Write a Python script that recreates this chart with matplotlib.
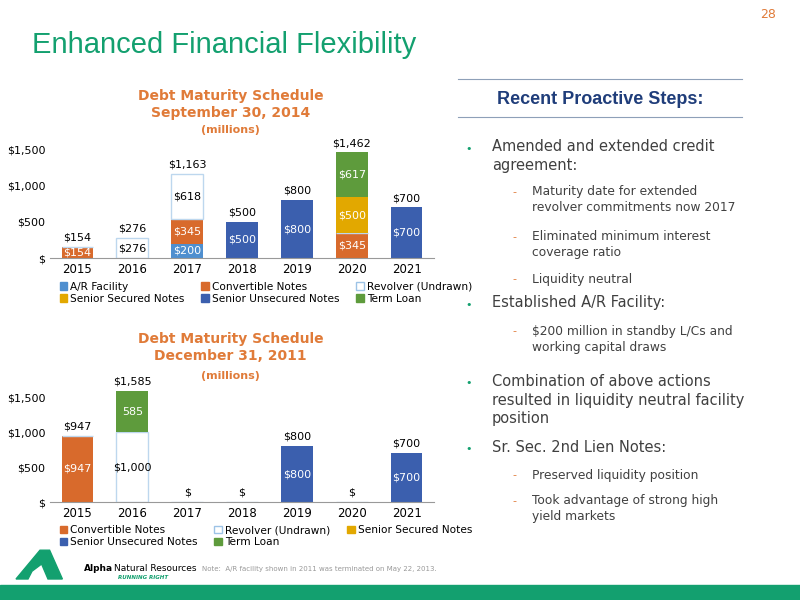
import matplotlib
matplotlib.use("Agg")
import matplotlib.pyplot as plt
import numpy as np
from matplotlib.patches import Rectangle, Polygon

years = ["2015", "2016", "2017", "2018", "2019", "2020", "2021"]
series = ["A/R Facility", "Convertible Notes", "Revolver (Undrawn)",
          "Senior Secured Notes", "Senior Unsecured Notes", "Term Loan"]
colors = {"A/R Facility": "#4f8fcf", "Convertible Notes": "#d86a2c",
          "Revolver (Undrawn)": "#ffffff", "Senior Secured Notes": "#e2a800",
          "Senior Unsecured Notes": "#3b5fae", "Term Loan": "#5e9b3c"}

top_ar = [0, 0, 200, 0, 0, 0, 0]
top_conv = [154, 0, 345, 0, 0, 345, 0]
top_rev = [0, 276, 618, 0, 0, 0, 0]
top_ssn = [0, 0, 0, 0, 0, 500, 0]
top_sun = [0, 0, 0, 500, 800, 0, 700]
top_tl = [0, 0, 0, 0, 0, 617, 0]
top_totals = ["$154", "$276", "$1,163", "$500", "$800", "$1,462", "$700"]

bot_conv = [947, 0, 0, 0, 0, 0, 0]
bot_rev = [0, 1000, 0, 0, 0, 0, 0]
bot_ssn = [0, 0, 0, 0, 0, 0, 0]
bot_sun = [0, 0, 0, 0, 800, 0, 700]
bot_tl = [0, 585, 0, 0, 0, 0, 0]
bot_totals = ["$947", "$1,585", "$", "$", "$800", "$", "$700"]

GREEN = "#13a06f"
ORANGE = "#e07b39"

fig = plt.figure(figsize=(8, 6), dpi=100)
fig.patch.set_facecolor("white")

def draw(ax, data, totals, ylim, legend_order):
    x = np.arange(len(years))
    bottom = np.zeros(len(years))
    for name, vals in data:
        vals = np.array(vals, dtype=float)
        ec = "#bdd7ee" if name == "Revolver (Undrawn)" else "none"
        ax.bar(x, vals, 0.58, bottom=bottom, color=colors[name], edgecolor=ec, linewidth=1)
        for i, v in enumerate(vals):
            if v > 0:
                tc = "black" if name == "Revolver (Undrawn)" else "white"
                lab = "585" if v == 585 else f"${v:,.0f}"
                ax.text(i, bottom[i] + v / 2, lab, ha="center", va="center", fontsize=8, color=tc)
        bottom += vals
    for i, t in enumerate(totals):
        ax.text(i, bottom[i] + 60, t, ha="center", va="bottom", fontsize=8)
    ax.set_xlim(-0.5, 6.5)
    ax.set_ylim(0, ylim)
    ax.set_xticks(x)
    ax.set_xticklabels(years, fontsize=8.5)
    ax.set_yticks([0, 500, 1000, 1500])
    ax.set_yticklabels(["$", "$500", "$1,000", "$1,500"], fontsize=8)
    for s in ["top", "right", "left"]:
        ax.spines[s].set_visible(False)
    ax.spines["bottom"].set_color("#999999")
    ax.tick_params(length=0)
    handles = [Rectangle((0, 0), 1, 1, facecolor=colors[n],
                         edgecolor="#9dc3e6" if n == "Revolver (Undrawn)" else colors[n]) for n in legend_order]
    ax.legend(handles, legend_order, ncol=3, loc="upper left", bbox_to_anchor=(0.0, -0.12),
              frameon=False, fontsize=7.6, handlelength=0.7, handleheight=0.7,
              columnspacing=1.6, handletextpad=0.3, labelspacing=0.2)

ax1 = fig.add_axes([0.0625, 0.57, 0.48, 0.195])
draw(ax1, [("A/R Facility", top_ar), ("Convertible Notes", top_conv),
           ("Revolver (Undrawn)", top_rev), ("Senior Secured Notes", top_ssn),
           ("Senior Unsecured Notes", top_sun), ("Term Loan", top_tl)],
     top_totals, 1620, [series[i] for i in [0, 3, 1, 4, 2, 5]])
fig.text(0.288, 0.826, "Debt Maturity Schedule\nSeptember 30, 2014", ha="center", va="center",
         color=ORANGE, fontsize=10, fontweight="bold", linespacing=1.25)
fig.text(0.288, 0.783, "(millions)", ha="center", va="center", color=ORANGE, fontsize=8, fontweight="bold")

ax2 = fig.add_axes([0.0625, 0.163, 0.48, 0.187])
draw(ax2, [("Convertible Notes", bot_conv), ("Revolver (Undrawn)", bot_rev),
           ("Senior Secured Notes", bot_ssn), ("Senior Unsecured Notes", bot_sun),
           ("Term Loan", bot_tl)],
     bot_totals, 1600, [series[i] for i in [1, 4, 2, 5, 3]])
fig.text(0.288, 0.421, "Debt Maturity Schedule\nDecember 31, 2011", ha="center", va="center",
         color=ORANGE, fontsize=10, fontweight="bold", linespacing=1.25)
fig.text(0.288, 0.373, "(millions)", ha="center", va="center", color=ORANGE, fontsize=8, fontweight="bold")

# Title and decorations
fig.text(0.04, 0.925, "Enhanced Financial Flexibility", color=GREEN, fontsize=21,
         va="center", ha="left", family="Liberation Sans")
fig.text(0.96, 0.975, "28", color=ORANGE, fontsize=9, ha="center", va="center")
fig.add_artist(Rectangle((0, 0), 1, 0.025, transform=fig.transFigure, color=GREEN))

# Right panel
fig.add_artist(plt.Line2D([0.572, 0.928], [0.868, 0.868], transform=fig.transFigure, color="#8ea0b8", lw=0.8))
fig.add_artist(plt.Line2D([0.572, 0.928], [0.805, 0.805], transform=fig.transFigure, color="#8ea0b8", lw=0.8))
fig.text(0.75, 0.835, "Recent Proactive Steps:", color="#1f3d7a", fontsize=13, ha="center", va="center",
         family="Liberation Sans", fontweight="bold")

items = [
    (0, 0.740, "Amended and extended credit\nagreement:"),
    (1, 0.667, "Maturity date for extended\nrevolver commitments now 2017"),
    (1, 0.592, "Eliminated minimum interest\ncoverage ratio"),
    (1, 0.535, "Liquidity neutral"),
    (0, 0.495, "Established A/R Facility:"),
    (1, 0.435, "$200 million in standby L/Cs and\nworking capital draws"),
    (0, 0.333, "Combination of above actions\nresulted in liquidity neutral facility\nposition"),
    (0, 0.255, "Sr. Sec. 2nd Lien Notes:"),
    (1, 0.208, "Preserved liquidity position"),
    (1, 0.152, "Took advantage of strong high\nyield markets"),
]
for lvl, y, t in items:
    nl = t.count("\n")
    if lvl == 0:
        fig.text(0.582, y + nl * 0.016 - 0.004, "•", color=GREEN, fontsize=8, va="center", ha="left")
        fig.text(0.615, y, t, color="#404040", fontsize=10.5, va="center", ha="left", linespacing=1.3)
    else:
        fig.text(0.64, y + nl * 0.013, "-", color=ORANGE, fontsize=8, va="center", ha="left")
        fig.text(0.665, y, t, color="#404040", fontsize=8.8, va="center", ha="left", linespacing=1.3)

# Logo and note
fig.add_artist(Polygon([[0.02, 0.035], [0.05, 0.083], [0.062, 0.083], [0.078, 0.035], [0.06, 0.035],
                        [0.052, 0.06], [0.04, 0.048], [0.035, 0.035]],
                       closed=True, transform=fig.transFigure, color=GREEN))
fig.text(0.105, 0.053, "Alpha", fontsize=6.5, fontweight="bold", va="center")
fig.text(0.142, 0.053, "Natural Resources", fontsize=6.5, va="center")
fig.text(0.148, 0.037, "RUNNING RIGHT", fontsize=4, color=GREEN, style="italic", fontweight="bold", va="center")
fig.text(0.252, 0.051, "Note:  A/R facility shown in 2011 was terminated on May 22, 2013.", fontsize=5,
         color="#999999", va="center")

fig.savefig("out.png", dpi=100)
